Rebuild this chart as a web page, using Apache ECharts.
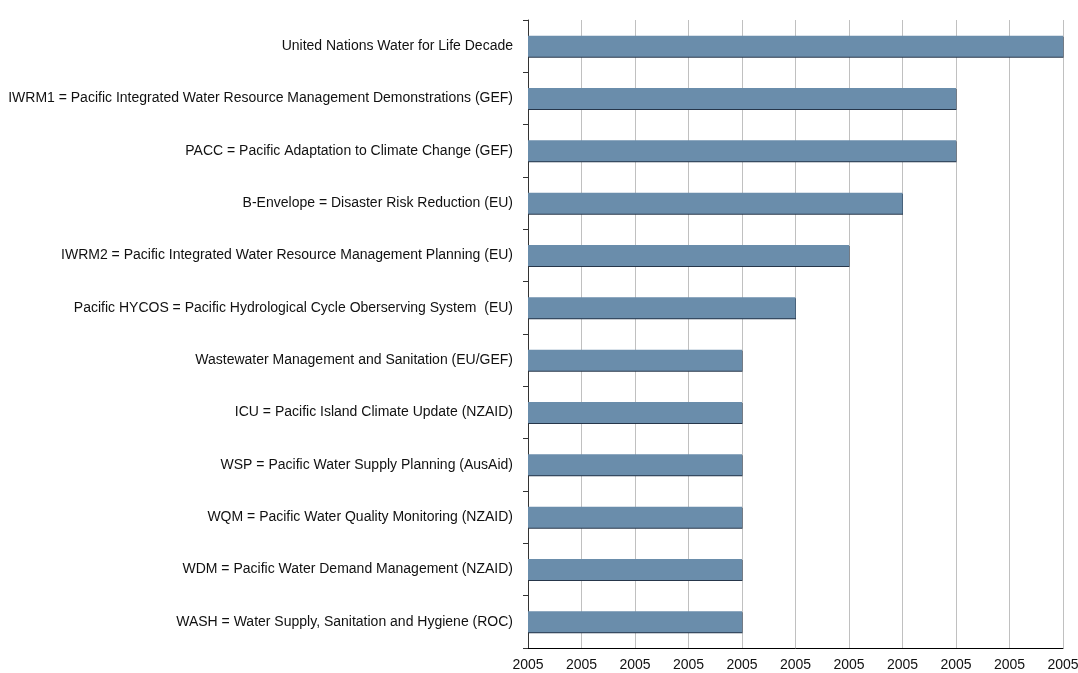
<!DOCTYPE html>
<html><head><meta charset="utf-8">
<script src="https://cdn.jsdelivr.net/npm/echarts@6/dist/echarts.min.js"></script>
<style>html,body{margin:0;padding:0;background:#fff;overflow:hidden}#c{width:1078px;height:673px}</style>
</head><body><div id="c"></div>
<script>
const categories = [
  "United Nations Water for Life Decade",
  "IWRM1 = Pacific Integrated Water Resource Management Demonstrations (GEF)",
  "PACC = Pacific Adaptation to Climate Change (GEF)",
  "B-Envelope = Disaster Risk Reduction (EU)",
  "IWRM2 = Pacific Integrated Water Resource Management Planning (EU)",
  "Pacific HYCOS = Pacific Hydrological Cycle Oberserving System  (EU)",
  "Wastewater Management and Sanitation (EU/GEF)",
  "ICU = Pacific Island Climate Update (NZAID)",
  "WSP = Pacific Water Supply Planning (AusAid)",
  "WQM = Pacific Water Quality Monitoring (NZAID)",
  "WDM = Pacific Water Demand Management (NZAID)",
  "WASH = Water Supply, Sanitation and Hygiene (ROC)"
];
const durations = [10, 8, 8, 7, 6, 5, 4, 4, 4, 4, 4, 4];
const tickLabels = ["2005","2005","2005","2005","2005","2005","2005","2005","2005","2005","2005"];

const chart = echarts.init(document.getElementById('c'), null, {renderer: 'canvas'});
chart.setOption({
  animation: false,
  backgroundColor: '#ffffff',
  grid: {left: 528, right: 15, top: 20, bottom: 25, containLabel: false, outerBoundsMode: 'none'},
  xAxis: {
    type: 'value', min: 0, max: 10, interval: 1,
    axisLine: {show: true, lineStyle: {color: '#000', width: 1}},
    axisTick: {show: false},
    splitLine: {show: true, lineStyle: {color: '#c0c0c0', width: 1}},
    axisLabel: {
      color: '#111', fontFamily: 'Liberation Sans, Arial', fontSize: 14, margin: 10,
      formatter: (v) => tickLabels[Math.round(v)]
    }
  },
  yAxis: {
    type: 'category', data: categories, inverse: true,
    axisLine: {show: true, lineStyle: {color: '#333', width: 1}},
    axisTick: {show: true, length: 5, lineStyle: {color: '#333'}},
    axisLabel: {color: '#111', fontFamily: 'Liberation Sans, Arial', fontSize: 14, margin: 15,
      padding: [3, 0, 0, 0]}
  },
  series: [{
    type: 'bar', data: durations, barWidth: 21,
    itemStyle: {
      color: '#6a8dab',
      shadowColor: '#26364a', shadowOffsetY: 1, shadowOffsetX: 0.5, shadowBlur: 0
    }
  }]
});
</script></body></html>
